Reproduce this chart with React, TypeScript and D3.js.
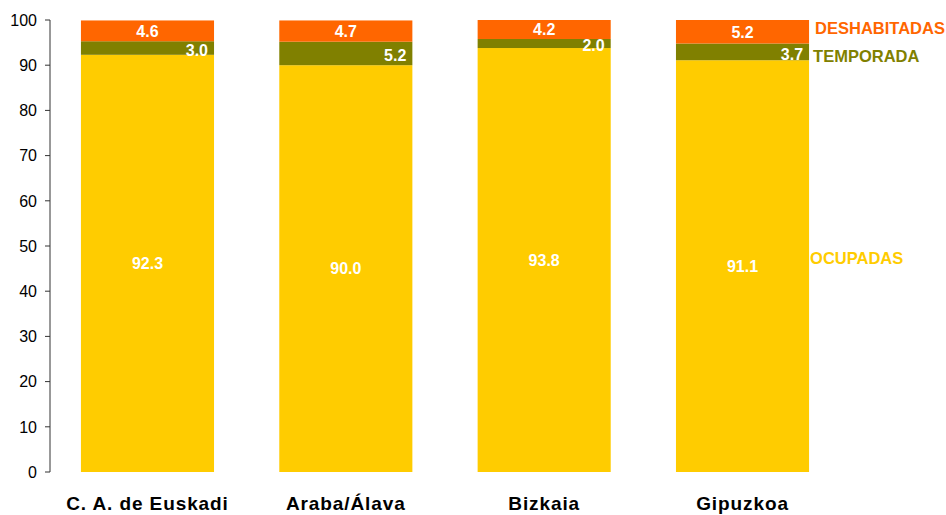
import React from "react";
import * as d3 from "d3";

const categories = ["C. A. de Euskadi", "Araba/Álava", "Bizkaia", "Gipuzkoa"];
const ocupadas = [92.3, 90.0, 93.8, 91.1];
const temporada = [3.0, 5.2, 2.0, 3.7];
const deshabitadas = [4.6, 4.7, 4.2, 5.2];
const seriesNames = ["OCUPADAS", "TEMPORADA", "DESHABITADAS"];
const seriesColors = ["#FFCC00", "#808000", "#FF6600"];
const yTicks = [0, 10, 20, 30, 40, 50, 60, 70, 80, 90, 100];

const W = 946;
const H = 515;
const FONT = "'Liberation Sans', Arial, sans-serif";

export default function App() {
  const x = d3
    .scaleBand<string>()
    .domain(categories)
    .range([50, 840])
    .paddingInner(0.329)
    .paddingOuter(0.156);
  const y = d3.scaleLinear().domain([0, 100]).range([472, 20]);

  const rows = categories.map((c, i) => ({
    cat: c,
    OCUPADAS: ocupadas[i],
    TEMPORADA: temporada[i],
    DESHABITADAS: deshabitadas[i],
  }));
  const stacked = d3.stack<any>().keys(seriesNames)(rows);
  const bw = x.bandwidth();
  const last = categories[categories.length - 1];
  const lastX = (x(last) as number) + bw;

  return (
    <svg width={W} height={H} style={{ position: "absolute", left: 0, top: 0 }}>
      <rect width={W} height={H} fill="#fff" />
      {stacked.map((s, si) => (
        <g key={s.key}>
          {s.map((d, i) => (
            <rect
              key={i}
              x={x(categories[i])}
              y={y(d[1])}
              width={bw}
              height={y(d[0]) - y(d[1])}
              fill={seriesColors[si]}
            />
          ))}
        </g>
      ))}
      {/* value labels */}
      {stacked.map((s, si) =>
        s.map((d, i) => {
          const x0 = x(categories[i]) as number;
          const mid = (y(d[0]) + y(d[1])) / 2;
          const v = d[1] - d[0];
          const isTemp = s.key === "TEMPORADA";
          return (
            <text
              key={s.key + i}
              x={isTemp ? x0 + bw - 6 : x0 + bw / 2}
              y={isTemp ? mid + 2 : mid}
              dy="0.36em"
              textAnchor={isTemp ? "end" : "middle"}
              fill="#fff"
              fontFamily={FONT}
              fontWeight="bold"
              fontSize={16}
            >
              {v.toFixed(1)}
            </text>
          );
        })
      )}
      {/* series labels */}
      {stacked.map((s, si) => {
        const d = s[s.length - 1];
        const mid = (y(d[0]) + y(d[1])) / 2;
        const off = s.key === "OCUPADAS" ? -8 : s.key === "TEMPORADA" ? 4 : -4;
        const dx = s.key === "DESHABITADAS" ? 6 : s.key === "TEMPORADA" ? 4 : 1;
        return (
          <text
            key={"lab" + s.key}
            x={lastX + dx}
            y={mid + off}
            dy="0.36em"
            fill={seriesColors[si]}
            fontFamily={FONT}
            fontWeight="bold"
            fontSize={16.5}
          >
            {s.key}
          </text>
        );
      })}
      {/* y axis */}
      <line x1={50} x2={50} y1={y(100)} y2={y(0)} stroke="#333" strokeWidth={1} />
      {yTicks.map((t) => (
        <g key={t}>
          <line x1={45} x2={50} y1={y(t)} y2={y(t)} stroke="#333" />
          <text
            x={37}
            y={y(t)}
            dy="0.36em"
            textAnchor="end"
            fontFamily={FONT}
            fontSize={16}
            fill="#000"
          >
            {t}
          </text>
        </g>
      ))}
      {/* category labels */}
      {categories.map((c) => (
        <text
          key={c}
          x={(x(c) as number) + bw / 2}
          y={503}
          dy="0.36em"
          textAnchor="middle"
          fontFamily={FONT}
          fontWeight="bold"
          fontSize={19}
          letterSpacing={0.9}
          fill="#000"
        >
          {c}
        </text>
      ))}
    </svg>
  );
}
